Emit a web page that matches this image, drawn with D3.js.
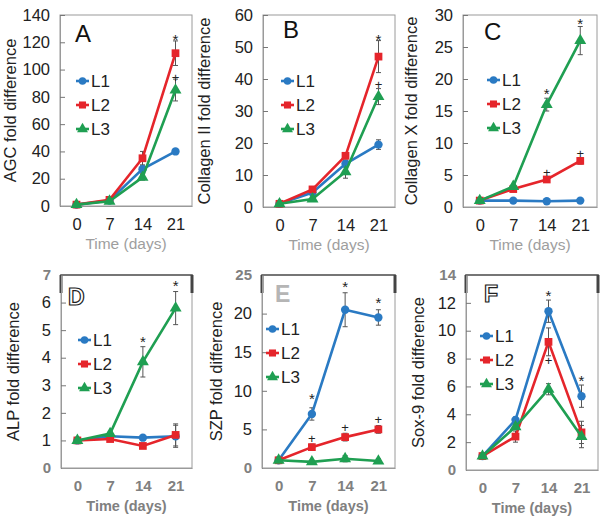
<!DOCTYPE html>
<html><head><meta charset="utf-8">
<script src="https://cdn.jsdelivr.net/npm/d3@7"></script>
<style>
body{margin:0;background:#fff}
svg{display:block}
text{font-family:"Liberation Sans",Arial,sans-serif}
</style></head>
<body><svg id="c" width="601" height="527"></svg>
<script>
// ---------- data ----------
const days = [0, 7, 14, 21];
const seriesNames = ["L1", "L2", "L3"];
const xTickLabels = ["0", "7", "14", "21"];
const panelLetters = ["A", "B", "C", "D", "E", "F"];
const yLabels = ["AGC fold difference", "Collagen II fold difference", "Collagen X fold difference",
                 "ALP fold difference", "SZP fold difference", "Sox-9 fold difference"];
const yMaxes = [140, 60, 30, 7, 25, 14];
const ySteps = [20, 10, 5, 1, 5, 2];

// A: AGC
const agcL1 = [1, 4, 27, 40], agcL2 = [1, 4.5, 35, 112], agcL3 = [1, 3.5, 21, 85];
const agcE1 = [0.5, 1, 3, 2], agcE2 = [0.5, 1, 5, 9], agcE3 = [0.5, 1, 2, 8];
const agcMarks = [[21, 2, "*", 121], [21, 3, "+", 94]];
// B: Collagen II
const col2L1 = [1, 4.5, 13.5, 19.5], col2L2 = [1, 5.5, 16, 47], col2L3 = [1, 2.5, 11, 34.5];
const col2E1 = [0.3, 0.5, 1, 1.5], col2E2 = [0.3, 0.5, 1, 5], col2E3 = [0.3, 0.5, 2, 2.5];
const col2Marks = [[21, 2, "*", 52], [21, 3, "+", 38]];
// C: Collagen X
const col10L1 = [1, 1, 0.9, 1], col10L2 = [1, 2.8, 4.3, 7.2], col10L3 = [1, 3.2, 16, 26];
const col10E1 = [0.2, 0.1, 0.1, 0.1], col10E2 = [0.2, 0.2, 0.3, 0.5], col10E3 = [0.2, 0.3, 1, 2.2];
const col10Marks = [[14, 3, "*", 17.5], [21, 3, "*", 28.5], [14, 2, "+", 5.3], [21, 2, "+", 8.3]];
// D: ALP
const alpL1 = [1, 1.15, 1.1, 1.15], alpL2 = [1, 1.05, 0.8, 1.2], alpL3 = [1, 1.25, 3.85, 5.8];
const alpE1 = [0.05, 0.05, 0.05, 0.4], alpE2 = [0.05, 0.05, 0.05, 0.4], alpE3 = [0.05, 0.05, 0.55, 0.6];
const alpMarks = [[14, 3, "*", 4.55], [21, 3, "*", 6.55]];
// E: SZP
const szpL1 = [1, 7, 20.5, 19.5], szpL2 = [1, 2.7, 4, 5], szpL3 = [1, 0.8, 1.2, 0.9];
const szpE1 = [0.2, 0.8, 2.2, 1], szpE2 = [0.2, 0.4, 0.5, 0.5], szpE3 = [0.2, 0.2, 0.4, 0.3];
const szpMarks = [[7, 1, "*", 8.8], [14, 1, "*", 23.3], [21, 1, "*", 21.3], [7, 2, "+", 3.8], [14, 2, "+", 5.2], [21, 2, "+", 6.2]];
// F: Sox-9
const soxL1 = [1, 3.6, 11.4, 5.3], soxL2 = [1, 2.4, 9.2, 2.7], soxL3 = [1, 3.1, 5.8, 2.4];
const soxE1 = [0.1, 0.2, 0.8, 0.8], soxE2 = [0.1, 0.4, 1, 0.8], soxE3 = [0.1, 0.2, 0.4, 0.8];
const soxMarks = [[14, 1, "*", 12.4], [21, 1, "*", 6.3], [14, 2, "+", 7.8]];

// ---------- layout ----------
const colors = ["#2a7ac3", "#e5252b", "#1f9f52"];
const panels = [
  {vals: [agcL1, agcL2, agcL3], errs: [agcE1, agcE2, agcE3], marks: agcMarks,
   l: 60, r: 192, t: 15, b: 206, ylx: 16, leg: [76, 81], let: [75, 42], row: 0},
  {vals: [col2L1, col2L2, col2L3], errs: [col2E1, col2E2, col2E3], marks: col2Marks,
   l: 263, r: 395, t: 15, b: 207, ylx: 210, leg: [281, 81], let: [283, 38], row: 0},
  {vals: [col10L1, col10L2, col10L3], errs: [col10E1, col10E2, col10E3], marks: col10Marks,
   l: 463, r: 597, t: 15, b: 207, ylx: 417, leg: [487, 80], let: [484, 40], row: 0},
  {vals: [alpL1, alpL2, alpL3], errs: [alpE1, alpE2, alpE3], marks: alpMarks,
   l: 61, r: 192, t: 275, b: 468, ylx: 19, leg: [78, 340], let: [68, 305], row: 1},
  {vals: [szpL1, szpL2, szpL3], errs: [szpE1, szpE2, szpE3], marks: szpMarks,
   l: 262, r: 395, t: 275, b: 468, ylx: 222, leg: [266, 329], let: [275, 302], row: 1},
  {vals: [soxL1, soxL2, soxL3], errs: [soxE1, soxE2, soxE3], marks: soxMarks,
   l: 466, r: 598, t: 275, b: 470, ylx: 424, leg: [480, 336], let: [484, 302], row: 1}
];

const svg = d3.select("#c");
const ghost = sel => sel.attr("fill", "#9e9e9e").attr("stroke", "none");
const ghostDark = sel => sel.attr("fill", "#808080").attr("stroke", "none").attr("font-weight", "bold");

panels.forEach((p, i) => {
  const g = svg.append("g");
  const x = d3.scaleLinear().domain([-3.5, 24.5]).range([p.l, p.r]);
  const y = d3.scaleLinear().domain([0, yMaxes[i]]).range([p.b, p.t]);

  // frame
  g.append("rect").attr("x", p.l).attr("y", p.t).attr("width", p.r - p.l).attr("height", p.b - p.t)
    .attr("fill", "none").attr("stroke", "#9a9a9a").attr("stroke-width", 1);
  if (p.row === 1) {
    g.append("path").attr("d", `M${p.l},${p.t + 18}V${p.t}H${p.r}V${p.t + 18}`)
      .attr("fill", "none").attr("stroke", "#5a5a5a").attr("stroke-width", 1.6);
    [p.l, p.r].forEach(xx => g.append("line").attr("x1", xx).attr("x2", xx).attr("y1", p.t).attr("y2", p.t + 18)
      .attr("stroke", "#444").attr("stroke-width", 3));
  }

  // y axis (inward ticks)
  const yTicks = d3.range(0, yMaxes[i] + 0.001, ySteps[i]);
  const ya = g.append("g").attr("transform", `translate(${p.l},0)`)
    .call(d3.axisLeft(y).tickValues(yTicks).tickSize(-5).tickPadding(10).tickFormat(d3.format("d")));
  ya.select(".domain").attr("stroke", "#9a9a9a");
  ya.selectAll(".tick line").attr("stroke", "#777");
  ya.selectAll(".tick text").attr("font-size", 16.5).attr("fill", "#222")
    .attr("font-family", "Liberation Sans, Arial, sans-serif");
  if (p.row === 1) {
    ya.selectAll(".tick text").filter(d => d === 0 || d === yMaxes[i]).call(ghostDark).attr("font-size", 15);
  }

  // x axis
  const xa = g.append("g").attr("transform", `translate(0,${p.b})`)
    .call(d3.axisBottom(x).tickValues(days).tickSize(0).tickPadding(12)
      .tickFormat((d, k) => xTickLabels[k]));
  xa.select(".domain").attr("stroke", "#9a9a9a");
  xa.selectAll(".tick text").attr("font-size", 16.5).attr("fill", "#222")
    .attr("font-family", "Liberation Sans, Arial, sans-serif");
  if (p.row === 1) xa.selectAll(".tick text").call(ghostDark).attr("font-size", 15);

  // x label
  const xl = g.append("text").attr("x", (p.l + p.r) / 2).attr("y", p.b + 43)
    .attr("text-anchor", "middle").attr("font-size", 15.5).text("Time (days)").call(ghost);
  if (p.row === 1) xl.call(ghostDark).attr("font-size", 14.5);

  // y label
  g.append("text").attr("transform", `translate(${p.ylx},${(p.t + p.b) / 2}) rotate(-90)`)
    .attr("text-anchor", "middle").attr("font-size", 16.5).attr("fill", "#222").text(yLabels[i]);

  // panel letter
  const lt = g.append("text").attr("x", p.let[0]).attr("y", p.let[1]).attr("font-size", 24)
    .attr("fill", "#111").text(panelLetters[i]);
  if (p.row === 1) {
    lt.attr("font-weight", "bold").attr("font-size", 23);
    if (i === 4) lt.attr("fill", "#b5b5b5");
    else lt.attr("fill", "#fff").attr("stroke", "#222").attr("stroke-width", 1.2);
  }

  const symTypes = [d3.symbolCircle, d3.symbolSquare, d3.symbolTriangle];
  const symSizes = [55, 60, 62];
  const line = d3.line().x((d, k) => x(days[k])).y(d => y(d));

  p.vals.forEach((vals, s) => {
    vals.forEach((v, k) => {
      const e = p.errs[s][k];
      if (k === 0) return;
      const xx = x(days[k]);
      g.append("path").attr("d", `M${xx},${y(v - e)}V${y(v + e)}M${xx - 2.5},${y(v - e)}H${xx + 2.5}M${xx - 2.5},${y(v + e)}H${xx + 2.5}`)
        .attr("stroke", "#555").attr("stroke-width", 1).attr("fill", "none");
    });
  });
  p.vals.forEach((vals, s) => {
    g.append("path").datum(vals).attr("d", line).attr("fill", "none")
      .attr("stroke", colors[s]).attr("stroke-width", 2.6);
    g.selectAll(null).data(vals).enter().append("path")
      .attr("transform", (d, k) => `translate(${x(days[k])},${y(d)})`)
      .attr("d", d3.symbol().type(symTypes[s]).size(symSizes[s])).attr("fill", colors[s]);
  });

  // significance marks
  p.marks.forEach(m => {
    g.append("text").attr("x", x(m[0])).attr("y", y(m[3]) + 4).attr("text-anchor", "middle")
      .attr("font-size", m[2] === "*" ? 15 : 13).attr("fill", "#222").text(m[2]);
  });

  // legend
  seriesNames.forEach((nm, s) => {
    const ly = p.leg[1] + s * 24;
    g.append("line").attr("x1", p.leg[0]).attr("x2", p.leg[0] + 13).attr("y1", ly).attr("y2", ly)
      .attr("stroke", colors[s]).attr("stroke-width", 2.6);
    g.append("path").attr("transform", `translate(${p.leg[0] + 6.5},${ly})`)
      .attr("d", d3.symbol().type(symTypes[s]).size(symSizes[s] - 10)).attr("fill", colors[s]);
    g.append("text").attr("x", p.leg[0] + 15).attr("y", ly + 6).attr("font-size", 17).attr("fill", "#222").text(nm);
  });
});
</script></body></html>
